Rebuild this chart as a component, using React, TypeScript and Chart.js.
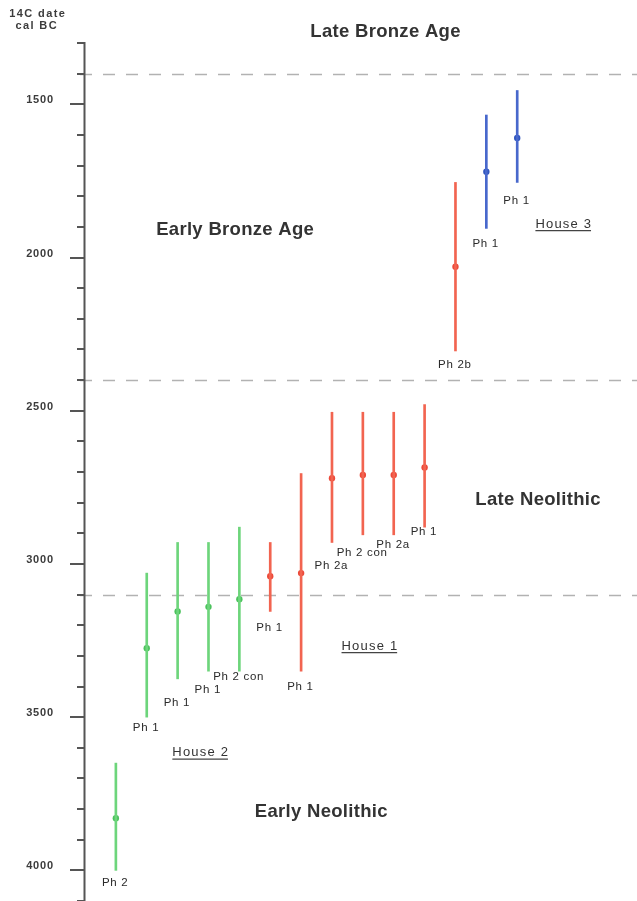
import { useEffect, useRef } from 'react';
import { Chart, registerables } from 'chart.js';

Chart.register(...registerables);

// ---- data (cal BC) ----
const phaseLabels = ['Ph 2', 'Ph 1', 'Ph 1', 'Ph 1', 'Ph 2 con', 'Ph 1', 'Ph 1', 'Ph 2a', 'Ph 2 con', 'Ph 2a', 'Ph 1', 'Ph 2b', 'Ph 1', 'Ph 1'];
const houseGroups = ['House 2', 'House 2', 'House 2', 'House 2', 'House 2', 'House 1', 'House 1', 'House 1', 'House 1', 'House 1', 'House 1', 'House 1', 'House 3', 'House 3'];
const medianCalBC = [3830, 3275, 3155, 3140, 3115, 3040, 3030, 2720, 2710, 2710, 2685, 2030, 1720, 1610];
const rangeYoungCalBC = [3650, 3030, 2930, 2930, 2880, 2930, 2705, 2505, 2505, 2505, 2480, 1755, 1535, 1455];
const rangeOldCalBC = [4000, 3500, 3375, 3350, 3350, 3155, 3350, 2930, 2905, 2905, 2880, 2305, 1905, 1755];
const periodBoundaries = [1400, 2400, 3100];
const periodNames = ['Late Bronze Age', 'Early Bronze Age', 'Late Neolithic', 'Early Neolithic'];
const periodLabelAt = [[9.73, 1263], [4.86, 1910], [14.67, 2791], [7.65, 3809]];
const houseNames = ['House 3', 'House 1', 'House 2'];
const houseLabelAt = [[15.49, 1891], [9.21, 3268], [3.73, 3616]];
const axisTitle = ['14C date', 'cal BC'];

// ---- layout / style ----
const labelDy = [12, 11, 24, 19, 6, 16, 16, 23, 18, 10, 5, 14, 15, 18];
const barColour: Record<string, string> = { 'House 2': '#6dd57b', 'House 1': '#f26450', 'House 3': '#4868cc' };
const dotColour: Record<string, string> = { 'House 2': '#4cc25d', 'House 1': '#ec4a3a', 'House 3': '#2f55bf' };
const FONT = '"Liberation Sans", Arial, sans-serif';

function drawText(ctx: CanvasRenderingContext2D, s: string, x: number, y: number, font: string, color: string, spacing: number, align: CanvasTextAlign) {
  ctx.font = font;
  ctx.fillStyle = color;
  (ctx as any).letterSpacing = spacing + 'px';
  ctx.textAlign = align;
  ctx.textBaseline = 'middle';
  const dx = align === 'center' ? spacing / 2 : align === 'right' ? spacing : 0;
  ctx.fillText(s, x + dx, y);
  const w = ctx.measureText(s).width - spacing;
  (ctx as any).letterSpacing = '0px';
  return w;
}

const decor = {
  id: 'decor',
  beforeDatasetsDraw(chart: any) {
    const { ctx, chartArea, scales } = chart;
    const y = scales.y;
    ctx.save();
    ctx.strokeStyle = '#b2b2b2';
    ctx.lineWidth = 1.3;
    ctx.setLineDash([12, 11]);
    periodBoundaries.forEach((v) => {
      const py = Math.round(y.getPixelForValue(v)) + 0.5;
      ctx.beginPath();
      ctx.moveTo(chartArea.left - 5, py);
      ctx.lineTo(chartArea.right, py);
      ctx.stroke();
    });
    ctx.restore();
  },
  afterDraw(chart: any) {
    const { ctx, chartArea, scales } = chart;
    const x = scales.x;
    const y = scales.y;
    ctx.save();
    // axis line
    ctx.strokeStyle = '#555';
    ctx.lineWidth = 2;
    ctx.beginPath();
    ctx.moveTo(chartArea.left - 0.5, y.getPixelForValue(y.min) - 1);
    ctx.lineTo(chartArea.left - 0.5, chart.height);
    ctx.stroke();
    // ticks + labels
    for (let v = y.min; v <= y.max; v += 100) {
      const py = Math.round(y.getPixelForValue(v));
      const major = v % 500 === 0;
      ctx.beginPath();
      ctx.moveTo(chartArea.left - (major ? 15 : 8), py);
      ctx.lineTo(chartArea.left, py);
      ctx.stroke();
      if (major) {
        drawText(ctx, String(v), chartArea.left - 32, py - 4, 'bold 11px ' + FONT, '#3c3c3c', 0.8, 'right');
      }
    }
    // axis title
    drawText(ctx, axisTitle[0], 37, 14, 'bold 11px ' + FONT, '#3c3c3c', 1.4, 'center');
    drawText(ctx, axisTitle[1], 36, 26, 'bold 11px ' + FONT, '#3c3c3c', 1.4, 'center');
    // period names
    periodNames.forEach((n, i) => {
      drawText(ctx, n, x.getPixelForValue(periodLabelAt[i][0]), y.getPixelForValue(periodLabelAt[i][1]), 'bold 18.5px ' + FONT, '#333', 0.3, 'center');
    });
    // house names (underlined)
    houseNames.forEach((n, i) => {
      const px = x.getPixelForValue(houseLabelAt[i][0]);
      const py = y.getPixelForValue(houseLabelAt[i][1]);
      const w = drawText(ctx, n, px, py, '13px ' + FONT, '#333', 1.2, 'center');
      ctx.strokeStyle = '#444';
      ctx.lineWidth = 1.2;
      ctx.beginPath();
      ctx.moveTo(px - w / 2, py + 6.5);
      ctx.lineTo(px + w / 2, py + 6.5);
      ctx.stroke();
    });
    // phase labels
    phaseLabels.forEach((p, i) => {
      const px = x.getPixelForValue(i + 1);
      const py = y.getPixelForValue(rangeOldCalBC[i]) + labelDy[i];
      drawText(ctx, p, px - 1, py, '11.5px ' + FONT, '#2a2a2a', 0.7, 'center');
    });
    ctx.restore();
  },
};

export default function App() {
  const ref = useRef<HTMLCanvasElement>(null);
  useEffect(() => {
    document.body.style.margin = '0';
    const xs = medianCalBC.map((_, i) => i + 1);
    const chart = new Chart(ref.current as HTMLCanvasElement, {
      type: 'bar',
      data: {
        datasets: [
          {
            type: 'bar',
            data: xs.map((xv, i) => ({ x: xv, y: [rangeYoungCalBC[i], rangeOldCalBC[i]] })) as any,
            backgroundColor: houseGroups.map((h, i) => (phaseLabels[i] === 'Ph 2b' ? barColour['House 1'] : barColour[h])),
            barThickness: 2,
            borderWidth: 0,
            borderSkipped: false,
          } as any,
          {
            type: 'scatter',
            data: xs.map((xv, i) => ({ x: xv, y: medianCalBC[i] })),
            pointRadius: 3.2,
            pointBorderWidth: 0,
            pointBackgroundColor: houseGroups.map((h) => dotColour[h]),
          } as any,
        ],
      },
      options: {
        animation: false,
        responsive: false,
        layout: { autoPadding: false, padding: { top: 43, left: 0, right: 0, bottom: 0 } },
        plugins: { legend: { display: false }, tooltip: { enabled: false } },
        scales: {
          x: { type: 'linear', min: 0, max: 17.88, offset: false, display: false },
          y: {
            type: 'linear',
            reverse: true,
            min: 1300,
            max: 4100,
            ticks: { stepSize: 100, display: false },
            grid: { display: false, drawTicks: false },
            border: { display: false },
            afterFit: (s: any) => {
              s.width = 85;
            },
          },
        },
      } as any,
      plugins: [decor],
    });
    return () => chart.destroy();
  }, []);
  return <canvas ref={ref} width={637} height={901} style={{ display: 'block' }} />;
}
